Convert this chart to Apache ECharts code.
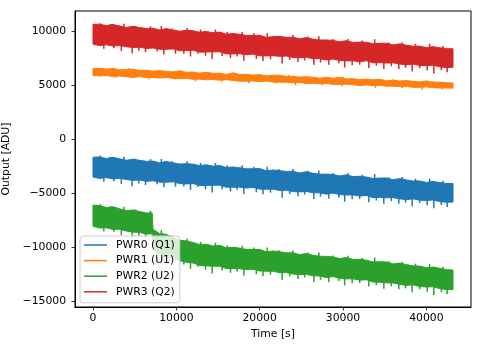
<!DOCTYPE html>
<html><head><meta charset="utf-8">
<script src="https://cdn.jsdelivr.net/npm/echarts@6/dist/echarts.min.js"></script>
<style>html,body{margin:0;padding:0;background:#fff}#c{width:482px;height:347px}</style>
</head><body><div id="c"></div>
<script>
// Sample times (s) for the band envelopes
const TIMES = [0,800,1600,2400,3200,4000,4800,5600,6400,7200,8000,8800,9600,10400,11200,12000,12800,13600,14400,15200,16000,16800,17600,18400,19200,20000,20800,21600,22400,23200,24000,24800,25600,26400,27200,28000,28800,29600,30400,31200,32000,32800,33600,34400,35200,36000,36800,37600,38400,39200,40000,40800,41600,42400,43200];
const TIMES_PWR2 = [0,800,1600,2400,3200,4000,4800,5600,6400,7100,7200,8000,8800,9600,10400,11200,12000,12800,13600,14400,15200,16000,16800,17600,18400,19200,20000,20800,21600,22400,23200,24000,24800,25600,26400,27200,28000,28800,29600,30400,31200,32000,32800,33600,34400,35200,36000,36800,37600,38400,39200,40000,40800,41600,42400,43200];

// Upper / lower envelope of each noisy trace (ADU)
const PWR0_HI = [-1650,-1640,-1780,-1670,-1810,-1940,-1840,-1950,-2040,-2020,-2180,-2050,-2180,-2290,-2260,-2300,-2440,-2360,-2490,-2420,-2620,-2560,-2630,-2730,-2730,-2710,-2920,-2840,-2900,-2980,-2960,-3120,-3000,-3150,-3230,-3220,-3260,-3390,-3290,-3450,-3420,-3490,-3630,-3590,-3580,-3740,-3640,-3760,-3860,-3850,-3990,-3900,-4000,-4090,-4100];
const PWR0_LO = [-3500,-3620,-3550,-3670,-3610,-3730,-3800,-3770,-3900,-3840,-3970,-3970,-3930,-4100,-4130,-4100,-4280,-4270,-4250,-4250,-4440,-4440,-4430,-4520,-4460,-4610,-4630,-4610,-4740,-4710,-4840,-4870,-4830,-4950,-4960,-5080,-4980,-5120,-5160,-5150,-5250,-5200,-5400,-5380,-5420,-5400,-5510,-5590,-5510,-5640,-5660,-5620,-5770,-5830,-5810];
const PWR1_HI = [6570,6580,6500,6560,6430,6460,6500,6370,6390,6300,6360,6300,6240,6340,6200,6230,6130,6200,6110,6120,6010,6150,6000,6010,5940,5990,5870,5920,5940,5820,5830,5760,5800,5750,5660,5750,5650,5730,5590,5610,5530,5580,5510,5560,5420,5470,5390,5440,5370,5310,5410,5280,5300,5240,5220];
const PWR1_LO = [5920,5860,5900,5820,5860,5790,5730,5810,5710,5730,5670,5730,5630,5610,5640,5560,5570,5510,5540,5470,5520,5450,5380,5380,5410,5340,5390,5300,5280,5290,5230,5270,5170,5190,5140,5170,5090,5080,5110,5040,4980,5030,4970,5010,4920,4920,4880,4910,4810,4810,4850,4780,4750,4760,4730];
const PWR2_HI = [-6100,-6140,-6320,-6250,-6430,-6600,-6540,-6690,-6820,-6820,-8320,-8730,-8800,-9080,-9340,-9410,-9550,-9740,-9710,-9890,-9820,-10040,-10000,-10080,-10190,-10200,-10190,-10410,-10340,-10410,-10510,-10500,-10680,-10570,-10740,-10830,-10840,-10890,-11040,-10950,-11120,-11110,-11190,-11350,-11340,-11350,-11540,-11460,-11600,-11720,-11740,-11900,-11830,-11950,-12070,-12100];
const PWR2_LO = [-8050,-8220,-8190,-8350,-8330,-8490,-8600,-8610,-8780,-8740,-10240,-10620,-10820,-10930,-11250,-11380,-11450,-11680,-11720,-11750,-11750,-11960,-11980,-11980,-12080,-12030,-12190,-12220,-12210,-12350,-12340,-12480,-12530,-12500,-12640,-12660,-12800,-12710,-12870,-12920,-12920,-13040,-13000,-13220,-13230,-13290,-13300,-13430,-13530,-13470,-13630,-13670,-13650,-13820,-13910,-13910];
const PWR3_HI = [10650,10660,10520,10630,10490,10360,10460,10350,10260,10280,10120,10250,10120,10010,10090,10050,9910,9990,9860,9930,9730,9790,9720,9620,9620,9640,9430,9510,9520,9440,9460,9300,9420,9270,9190,9200,9160,9030,9130,8970,9000,8990,8850,8890,8900,8740,8840,8720,8620,8630,8490,8580,8480,8390,8380];
const PWR3_LO = [8800,8680,8750,8630,8690,8570,8500,8530,8400,8460,8330,8330,8370,8200,8220,8250,8070,8080,8100,8100,7910,7910,7920,7830,7890,7740,7720,7740,7680,7710,7580,7550,7590,7470,7460,7340,7440,7300,7260,7270,7170,7280,7080,7100,7060,7080,6970,6890,6970,6840,6820,6860,6710,6650,6670];

// Short excursions (spikes) beyond the envelopes: time (s) and extreme value (ADU)
const SPIKE_TIMES = [1300,2500,3400,4700,5500,6300,7700,8500,9900,10900,11700,12600,13500,14300,15500,16500,17300,18100,19600,20400,21300,22700,23600,24600,25400,26500,27300,28300,29500,30200,31100,32000,33100,34000,34900,35800,36700,37500,38300,39200,40100,40900,41800,42500,900,2100,3700,5100,6900,8200,9500,11300,12900,14700,16100,17900,19300,20900,22300,24000,25800,27100,28800,30600,32300,33800,35500,37100,38700,40400,42000];
const PWR0_SPIKES = [-3920,-3880,-4130,-4350,-4090,-4240,-4160,-4450,-4380,-4380,-4680,-4420,-4620,-4920,-4630,-4830,-4680,-5070,-4900,-5090,-4940,-5410,-5060,-5270,-5110,-5520,-5310,-5510,-5380,-5770,-5560,-5510,-5820,-5670,-5970,-5720,-5960,-5860,-6200,-5900,-6100,-6390,-6090,-6270,-1500,-1620,-1610,-1790,-1840,-1810,-2040,-2040,-2180,-2180,-2410,-2410,-2540,-2530,-2760,-2760,-2910,-2880,-3130,-3130,-3280,-3210,-3510,-3500,-3640,-3640,-3830];
const PWR2_SPIKES = [-8540,-8570,-8870,-9150,-8930,-9120,-10710,-11220,-11440,-11590,-11990,-11810,-12070,-12420,-12140,-12360,-12230,-12630,-12480,-12680,-12540,-13030,-12700,-12930,-12780,-13210,-13010,-13240,-13130,-13530,-13330,-13300,-13630,-13510,-13830,-13610,-13880,-13800,-14160,-13890,-14110,-14420,-14150,-14350,-6000,-6180,-6240,-6490,-6630,-8410,-8930,-9200,-9490,-9580,-9830,-9860,-10010,-10020,-10270,-10300,-10490,-10480,-10760,-10790,-10980,-10940,-11290,-11330,-11510,-11560,-11790];
const PWR3_SPIKES = [8380,8420,8170,7950,8210,8060,8140,7850,7920,7920,7670,7930,7730,7430,7720,7520,7670,7280,7450,7260,7410,7010,7360,7150,7310,6900,7110,6910,7040,6650,6860,6910,6600,6810,6510,6760,6520,6620,6280,6580,6380,6090,6390,6210,10740,10680,10690,10510,10460,10490,10260,10310,10170,10170,9940,9940,9810,9820,9590,9660,9510,9540,9290,9290,9140,9270,8970,8980,8840,8840,8650];
const PWR1_SPIKE_TIMES = [2700,6700,9900,12300,15500,18700,21900,24300,27500,29900,33900,37100,39500,41900,4300,10500,17000,23500,30000,36000,40800];
const PWR1_SPIKES = [5700,5560,5540,5390,5350,5190,5200,5010,5010,4910,4770,4730,4580,4630,6570,6360,6170,5950,5760,5570,5410];

const SERIES_NAMES = ['PWR0 (Q1)','PWR1 (U1)','PWR2 (U2)','PWR3 (Q2)'];
const COLORS = ['#1f77b4','#ff7f0e','#2ca02c','#d62728'];
const X_TICKS = [0,10000,20000,30000,40000];
const Y_TICKS = [-15000,-10000,-5000,0,5000,10000];

const FONT = 'DejaVu Sans';
const FS = 10.8;

function bandSeries(name, color, times, hi, lo, spT, spV) {
  const rows = times.map((t, i) => [t, hi[i], lo[i]]);
  return {
    type: 'custom', name: name, coordinateSystem: 'cartesian2d',
    itemStyle: { color: color },
    encode: { x: 0, y: [1, 2] },
    data: rows, clip: true, silent: true,
    renderItem: function (params, api) {
      if (params.dataIndex !== 0) return null;
      const pts = [];
      for (let i = 0; i < rows.length; i++) pts.push(api.coord([rows[i][0], rows[i][1]]));
      for (let i = rows.length - 1; i >= 0; i--) pts.push(api.coord([rows[i][0], rows[i][2]]));
      const children = [{ type: 'polygon', shape: { points: pts },
        style: { fill: color, stroke: color, lineWidth: 1, lineJoin: 'round' } }];
      for (let k = 0; k < spT.length; k++) {
        let j = 0, best = Infinity;
        for (let i = 0; i < rows.length; i++) {
          const d = Math.abs(rows[i][0] - spT[k]);
          if (d < best) { best = d; j = i; }
        }
        const mid = (rows[j][1] + rows[j][2]) / 2;
        const a = api.coord([spT[k], spV[k]]);
        const b = api.coord([spT[k], mid]);
        children.push({ type: 'line', shape: { x1: a[0], y1: a[1], x2: b[0], y2: b[1] },
          style: { stroke: color, lineWidth: 1.5 } });
      }
      return { type: 'group', children: children };
    }
  };
}
function fmt(v) { return v < 0 ? '\u2212' + Math.abs(v) : String(v); }
const labelStyle = { color: '#000', fontFamily: FONT, fontSize: FS };

const chart = echarts.init(document.getElementById('c'), null, { renderer: 'canvas' });
chart.setOption({
  animation: false,
  backgroundColor: '#fff',
  grid: { left: 75, right: 11, top: 11, bottom: 40, show: true, borderColor: '#000', borderWidth: 1,
          backgroundColor: 'transparent', containLabel: false, outerBoundsMode: 'none' },
  xAxis: {
    type: 'value', min: -2160, max: 45360,
    name: 'Time [s]', nameLocation: 'middle', nameGap: 21, nameTextStyle: labelStyle,
    axisLine: { show: true, onZero: false, lineStyle: { color: '#000', width: 1 } },
    axisTick: { show: true, length: 3.5, lineStyle: { color: '#000', width: 0.8 }, customValues: X_TICKS },
    axisLabel: Object.assign({ customValues: X_TICKS, margin: 6, formatter: fmt }, labelStyle),
    splitLine: { show: false }
  },
  yAxis: {
    type: 'value', min: -15527, max: 11880,
    name: 'Output [ADU]', nameLocation: 'middle', nameGap: 53, nameRotate: 90, nameTextStyle: labelStyle,
    axisLine: { show: true, onZero: false, lineStyle: { color: '#000', width: 1 } },
    axisTick: { show: true, length: 3.5, lineStyle: { color: '#000', width: 0.8 }, customValues: Y_TICKS },
    axisLabel: Object.assign({ customValues: Y_TICKS, margin: 9, formatter: fmt }, labelStyle),
    splitLine: { show: false }
  },
  legend: {
    data: SERIES_NAMES, orient: 'vertical', left: 80, top: 236,
    icon: 'rect', itemWidth: 23, itemHeight: 1.5, itemGap: 3.6,
    padding: [3, 5, 5, 4],
    backgroundColor: 'rgba(255,255,255,0.8)', borderColor: '#cccccc', borderWidth: 1, borderRadius: 3,
    textStyle: { color: '#000', fontFamily: FONT, fontSize: FS, lineHeight: 12, padding: [0, 0, 0, 4] },
    selectedMode: false
  },
  series: [
    bandSeries(SERIES_NAMES[0], COLORS[0], TIMES, PWR0_HI, PWR0_LO, SPIKE_TIMES, PWR0_SPIKES),
    bandSeries(SERIES_NAMES[1], COLORS[1], TIMES, PWR1_HI, PWR1_LO, PWR1_SPIKE_TIMES, PWR1_SPIKES),
    bandSeries(SERIES_NAMES[2], COLORS[2], TIMES_PWR2, PWR2_HI, PWR2_LO, SPIKE_TIMES, PWR2_SPIKES),
    bandSeries(SERIES_NAMES[3], COLORS[3], TIMES, PWR3_HI, PWR3_LO, SPIKE_TIMES, PWR3_SPIKES)
  ]
});
</script></body></html>
